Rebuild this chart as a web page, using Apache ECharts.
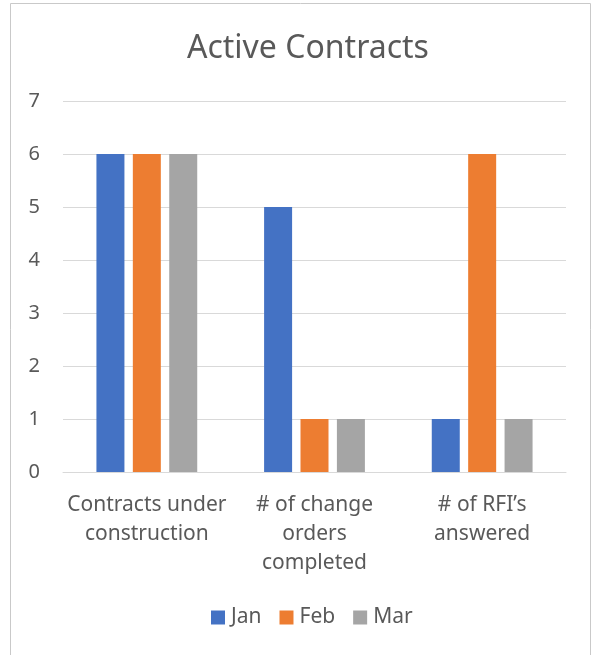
<!DOCTYPE html>
<html>
<head>
    <meta charset="utf-8" />
    <title>Active Contracts</title>
    <script src="https://cdn.jsdelivr.net/npm/echarts@6/dist/echarts.min.js"></script>
    <style>
        body { margin: 0; background: #fff; }
    </style>
</head>
<body>
    <div id="main" style="width: 597px;height: 655px;"></div>
    <script type="text/javascript">
        // data
        var categories = ['Contracts under\nconstruction', '# of change\norders\ncompleted', '# of RFI\u2019s\nanswered'];
        var seriesNames = ['Jan', 'Feb', 'Mar'];
        var janData = [6, 5, 1];
        var febData = [6, 1, 6];
        var marData = [6, 1, 1];
        var colors = ['#4472C4', '#ED7D31', '#A5A5A5'];

        var myChart = echarts.init(document.getElementById('main'));
        var font = 'Noto Sans';
        var textColor = '#595959';

        var allData = [janData, febData, marData];
        var series = seriesNames.map(function (name, i) {
            return {
                name: name,
                type: 'bar',
                data: allData[i],
                barWidth: 28,
                barGap: '30%',
                itemStyle: { color: colors[i] }
            };
        });

        var option = {
            animation: false,
            textStyle: { fontFamily: font },
            graphic: [{
                type: 'rect',
                shape: { x: 10.5, y: 3.5, width: 580, height: 700 },
                style: { fill: 'none', stroke: '#c9c9c9', lineWidth: 1 }
            }],
            title: {
                text: 'Active Contracts',
                left: 182,
                top: 28,
                textStyle: { fontSize: 32, fontWeight: 'normal', color: textColor, fontFamily: font }
            },
            grid: {
                left: 63,
                right: 31,
                top: 101,
                bottom: 183,
                containLabel: false
            },
            legend: {
                top: 602,
                left: 206,
                itemWidth: 14,
                itemHeight: 14,
                itemGap: 18,
                icon: 'rect',
                textStyle: { fontSize: 21, color: textColor, fontFamily: font, padding: [0, 0, 0, 1] },
                data: seriesNames
            },
            xAxis: {
                type: 'category',
                data: categories,
                axisLine: { lineStyle: { color: '#d9d9d9' } },
                axisTick: { show: false },
                axisLabel: {
                    fontSize: 21,
                    color: textColor,
                    lineHeight: 29,
                    margin: 19,
                    interval: 0
                }
            },
            yAxis: {
                type: 'value',
                min: 0,
                max: 7,
                interval: 1,
                axisLine: { show: false },
                axisTick: { show: false },
                splitLine: { lineStyle: { color: '#d9d9d9' } },
                axisLabel: { fontSize: 20, color: textColor, margin: 23 }
            },
            series: series
        };

        myChart.setOption(option);
    </script>
</body>
</html>
